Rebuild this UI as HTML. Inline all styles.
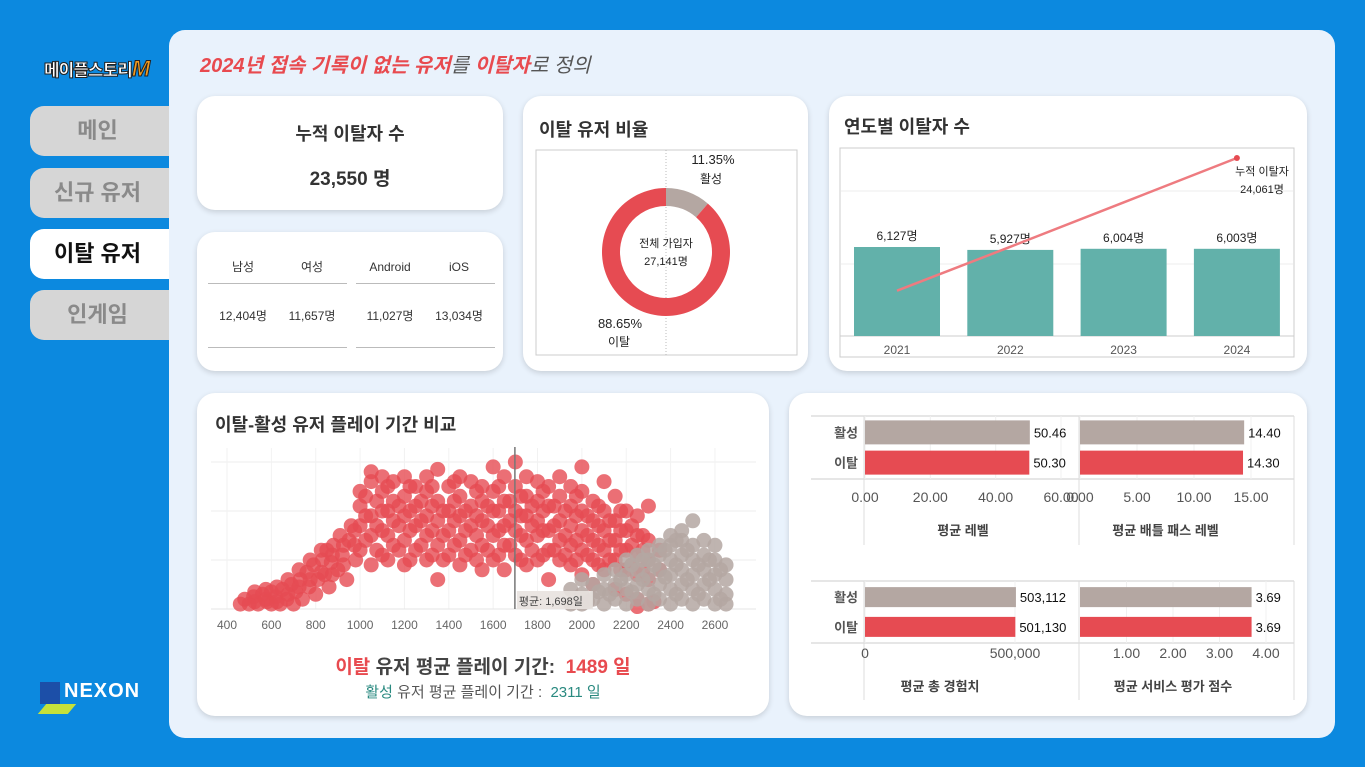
<!DOCTYPE html>
<html><head><meta charset="utf-8"><style>
*{margin:0;padding:0;box-sizing:border-box}
body{width:1365px;height:767px;overflow:hidden;background:#0c89df;font-family:"Liberation Sans","Noto Sans CJK KR",sans-serif;position:relative}
.abs{position:absolute}
.panel{left:169px;top:30px;width:1166px;height:708px;background:#e9f2fc;border-radius:16px}
.card{position:absolute;background:#fff;border-radius:18px;box-shadow:0 2px 6px rgba(0,0,0,.15)}
.nav{position:absolute;left:30px;width:145px;height:50px;border-radius:14px 0 0 14px;background:#d6d6d6;color:#8a8a8a;font-size:22px;font-weight:bold;text-align:center;line-height:50px;padding-right:10px}
.nav.on{background:#fff;color:#111}
.ct{font-size:18px;font-weight:bold;color:#333;position:absolute}
svg text{font-family:"Liberation Sans","Noto Sans CJK KR",sans-serif}
</style></head><body>
<div class="abs" style="left:44px;top:56px;font-size:17px;font-weight:900;color:#fff;-webkit-text-stroke:1px #222;letter-spacing:-1px">메이플스토리<span style="color:#f39a1e;font-style:italic;font-size:22px">M</span></div>
<div class="nav" style="top:106px">메인</div>
<div class="nav" style="top:168px">신규 유저</div>
<div class="nav on" style="top:229px">이탈 유저</div>
<div class="nav" style="top:290px">인게임</div>
<div class="abs" style="left:40px;top:680px;width:120px;height:36px">
<div style="position:absolute;left:0;top:2px;width:20px;height:22px;background:#1c4fa8"></div>
<div style="position:absolute;left:2px;top:24px;width:30px;height:10px;background:#c6e13a;transform:skewX(-40deg)"></div>
<div style="position:absolute;left:24px;top:0;color:#fff;font-weight:bold;font-size:20px;letter-spacing:1px">NEXON</div></div>
<div class="abs panel"></div>
<div class="abs" style="left:200px;top:49px;font-size:20px;font-style:italic;font-weight:bold;color:#e84a4f">2024년 접속 기록이 없는 유저<span style="color:#555;font-weight:normal">를 </span>이탈자<span style="color:#555;font-weight:normal">로 정의</span></div>

<div class="card" style="left:197px;top:96px;width:306px;height:114px">
<div style="position:absolute;top:24px;width:100%;text-align:center;font-size:18px;font-weight:bold;color:#333">누적 이탈자 수</div>
<div style="position:absolute;top:68px;width:100%;text-align:center;font-size:19px;font-weight:bold;color:#333">23,550 명</div></div>

<div class="card" style="left:197px;top:232px;width:306px;height:139px">
<div style="position:absolute;left:11px;top:51px;width:139px;border-top:1px solid #bbb"></div>
<div style="position:absolute;left:159px;top:51px;width:139px;border-top:1px solid #bbb"></div>
<div style="position:absolute;left:11px;top:115px;width:139px;border-top:1px solid #bbb"></div>
<div style="position:absolute;left:159px;top:115px;width:139px;border-top:1px solid #bbb"></div>
</div>

<div class="card" style="left:523px;top:96px;width:285px;height:275px"><div class="ct" style="left:16px;top:20px">이탈 유저 비율</div></div>
<div class="card" style="left:829px;top:96px;width:478px;height:275px"><div class="ct" style="left:15px;top:17px">연도별 이탈자 수</div></div>
<div class="card" style="left:197px;top:393px;width:572px;height:323px"><div class="ct" style="left:18px;top:18px">이탈-활성 유저 플레이 기간 비교</div>
<div style="position:absolute;top:259px;width:100%;text-align:center;font-size:19px;font-weight:bold;color:#444"><span style="color:#e84a4f">이탈</span> 유저 평균 플레이 기간: &nbsp;<span style="color:#e84a4f">1489 일</span></div>
<div style="position:absolute;top:288px;width:100%;text-align:center;font-size:15px;color:#555"><span style="color:#2a8a80">활성</span> 유저 평균 플레이 기간 : &nbsp;<span style="color:#2a8a80">2311 일</span></div></div>
<div class="card" style="left:789px;top:393px;width:518px;height:323px"></div>

<svg class="abs" style="left:0;top:0" width="1365" height="767" id="charts">
<g font-size="12" fill="#333" text-anchor="middle">
<text x="243" y="271">남성</text><text x="312" y="271">여성</text><text x="390" y="271">Android</text><text x="459" y="271">iOS</text>
<text x="243" y="320">12,404명</text><text x="312" y="320">11,657명</text><text x="390" y="320">11,027명</text><text x="459" y="320">13,034명</text></g>
<g id="donut"></g><g id="yearly"></g><g id="scatter"></g><g id="bars"></g>
</svg>
<script>
const NS='http://www.w3.org/2000/svg';
function mk(p,t,a,txt){const e=document.createElementNS(NS,t);for(const k in a)e.setAttribute(k,a[k]);if(txt!==undefined)e.textContent=txt;p.appendChild(e);return e;}
// ---- donut data
const donutLabels=['활성','이탈'];
const donutShares=[11.35,88.65];
// ---- yearly data
const years=['2021','2022','2023','2024'];
const yearChurn=[6127,5927,6004,6003];
const cumChurn=[6127,12054,18058,24061];
// ---- scatter data [days, value]
const churnPts=[[460,.1],[480,.2],[500,.1],[520,.25],[540,.1],[560,.3],[580,.15],[600,.1],[600,.35],[620,.25],[640,.1],[650,.4],[670,.2],[690,.5],[700,.1],[710,.35],[730,.6],[740,.2],[760,.75],[770,.45],[790,.9],[800,.3],[810,.6],[830,1],[840,.7],[850,1.2],[860,.45],[870,.95],[880,1.3],[900,.8],[910,1.5],[920,1.1],[940,.6],[950,1.4],[960,1.7],[980,1],
[525,.15],[525,.35],[575,.2],[575,.4],[625,.15],[625,.45],[675,.3],[675,.6],[725,.45],[725,.8],[775,.6],[775,1],[825,.75],[825,1.2],[875,.7],[875,1.1],[925,.9],[925,1.3],[975,1.3],[975,1.6],
[1000,1.2],[1000,1.7],[1000,2.1],[1000,2.4],[1050,.9],[1050,1.5],[1050,1.9],[1050,2.6],[1050,2.8],[1100,1.1],[1100,1.6],[1100,2],[1100,2.4],[1100,2.7],[1150,1.3],[1150,1.8],[1150,2.2],[1150,2.6],[1200,.9],[1200,1.4],[1200,1.9],[1200,2.3],[1200,2.7],[1250,1.2],[1250,1.7],[1250,2.1],[1250,2.5],[1300,1],[1300,1.5],[1300,1.9],[1300,2.4],[1300,2.7],[1350,.6],[1350,1.3],[1350,1.8],[1350,2.2],[1350,2.85],[1400,1.1],[1400,1.6],[1400,2],[1400,2.5],[1450,.9],[1450,1.4],[1450,1.9],[1450,2.3],[1450,2.7],[1500,1.2],[1500,1.7],[1500,2.1],[1500,2.6],[1550,.8],[1550,1.3],[1550,1.8],[1550,2.2],[1550,2.5],[1600,1],[1600,1.5],[1600,2],[1600,2.4],[1600,2.9],[1650,.8],[1650,1.3],[1650,1.7],[1650,2.2],[1650,2.7],[1700,1.1],[1700,1.6],[1700,2],[1700,2.5],[1700,3],[1750,.9],[1750,1.4],[1750,1.9],[1750,2.3],[1750,2.7],[1800,1],[1800,1.5],[1800,1.8],[1800,2.2],[1800,2.6],[1850,.6],[1850,1.2],[1850,1.6],[1850,2.1],[1850,2.5],[1900,1],[1900,1.4],[1900,1.8],[1900,2.3],[1900,2.7],[1950,.9],[1950,1.3],[1950,1.7],[1950,2.1],[1950,2.5],[2000,.7],[2000,1.2],[2000,1.6],[2000,2],[2000,2.4],[2000,2.9],[2050,.5],[2050,1],[2050,1.4],[2050,1.8],[2050,2.2],[2100,.8],[2100,1.2],[2100,1.6],[2100,2],[2100,2.6],[2150,.4],[2150,1],[2150,1.4],[2150,1.8],[2150,2.3],[2200,.3],[2200,.8],[2200,1.2],[2200,1.6],[2200,2],[2250,.2],[2250,.7],[2250,1.1],[2250,1.5],[2250,1.9],[2300,.1],[2300,.6],[2300,1],[2300,1.4],[2300,2.1],[2350,.8],[2350,1.2],
[1025,1.4],[1025,1.9],[1025,2.3],[1075,1.2],[1075,1.7],[1075,2.2],[1125,1],[1125,1.5],[1125,2],[1125,2.5],[1175,1.2],[1175,1.7],[1175,2.1],[1225,1],[1225,1.6],[1225,2],[1225,2.5],[1275,1.3],[1275,1.8],[1275,2.2],[1325,1.1],[1325,1.6],[1325,2.1],[1325,2.5],[1375,1],[1375,1.5],[1375,2],[1425,1.3],[1425,1.8],[1425,2.2],[1425,2.6],[1475,1.1],[1475,1.6],[1475,2],[1525,1],[1525,1.5],[1525,1.9],[1525,2.4],[1575,1.2],[1575,1.7],[1575,2.1],[1625,1.1],[1625,1.6],[1625,2],[1625,2.5],[1675,1.3],[1675,1.8],[1675,2.2],[1725,1],[1725,1.5],[1725,1.9],[1725,2.3],[1775,1.2],[1775,1.7],[1775,2.1],[1825,1.1],[1825,1.6],[1825,2],[1825,2.4],[1875,1.2],[1875,1.7],[1875,2.1],[1925,1.1],[1925,1.5],[1925,2],[1975,1],[1975,1.4],[1975,1.9],[1975,2.3],[2025,1.1],[2025,1.5],[2025,1.9],[2075,.9],[2075,1.3],[2075,1.7],[2075,2.1],[2125,1],[2125,1.4],[2125,1.8],[2175,.8],[2175,1.2],[2175,1.6],[2175,2],[2225,.9],[2225,1.3],[2225,1.7],[2275,.8],[2275,1.2],[2275,1.5],[2250,.05],[2325,.15]];
const activePts=[[1950,.1],[1950,.4],[2000,.1],[2000,.3],[2000,.6],[2050,.2],[2050,.5],[2100,.1],[2100,.4],[2100,.7],[2150,.2],[2150,.5],[2150,.8],[2200,.1],[2200,.4],[2200,.7],[2200,1],[2250,.2],[2250,.5],[2250,.8],[2250,1.1],[2300,.1],[2300,.4],[2300,.7],[2300,1],[2300,1.2],[2350,.2],[2350,.5],[2350,.8],[2350,1.1],[2350,1.3],[2400,.1],[2400,.4],[2400,.7],[2400,1],[2400,1.3],[2400,1.5],[2450,.2],[2450,.5],[2450,.8],[2450,1.1],[2450,1.4],[2450,1.6],[2500,.1],[2500,.4],[2500,.7],[2500,1],[2500,1.3],[2500,1.8],[2550,.2],[2550,.5],[2550,.8],[2550,1.1],[2550,1.4],[2600,.1],[2600,.4],[2600,.7],[2600,1],[2600,1.3],[2650,.1],[2650,.3],[2650,.6],[2650,.9],
[2025,.15],[2075,.35],[2125,.3],[2175,.6],[2225,.35],[2225,.9],[2275,.6],[2275,1],[2325,.3],[2325,.9],[2375,.65],[2375,1.2],[2425,.3],[2425,.9],[2425,1.4],[2475,.6],[2475,1.2],[2525,.3],[2525,.9],[2575,.6],[2575,1],[2625,.2],[2625,.8]];
const xTicks=[400,600,800,1000,1200,1400,1600,1800,2000,2200,2400,2600];
const avgDays=1698;
// ---- bar metrics
const groups=['활성','이탈'];
const levelVals=[50.46,50.30];
const bpVals=[14.40,14.30];
const expVals=[503112,501130];
const rateVals=[3.69,3.69];
const levelTicks=[0,20,40,60],bpTicks=[0,5,10,15],expTicks=[0,500000],rateTicks=[1,2,3,4];

// donut
(function(){const g=document.getElementById('donut');
mk(g,'rect',{x:536,y:150,width:261,height:205,fill:'none',stroke:'#ccc'});
mk(g,'line',{x1:666,y1:150,x2:666,y2:355,stroke:'#bbb','stroke-dasharray':'1,2'});
const cx=666,cy=252,R=64,r=46;let a0=0;const cols=['#b4a7a2','#e64b52'];
donutShares.forEach((s,i)=>{const a1=a0+s/100*2*Math.PI;const p=(a,rr)=>[cx+rr*Math.sin(a),cy-rr*Math.cos(a)];const L=(a1-a0)>Math.PI?1:0;
const [x1,y1]=p(a0,R),[x2,y2]=p(a1,R),[x3,y3]=p(a1,r),[x4,y4]=p(a0,r);
const e=mk(g,'path',{d:`M${x1},${y1}A${R},${R} 0 ${L} 1 ${x2},${y2}L${x3},${y3}A${r},${r} 0 ${L} 0 ${x4},${y4}Z`,fill:cols[i]});

a0=a1;});
mk(g,'text',{x:666,y:247,'font-size':11,'text-anchor':'middle',fill:'#222'},'전체 가입자');
mk(g,'text',{x:666,y:265,'font-size':11,'text-anchor':'middle',fill:'#222'},'27,141명');
mk(g,'text',{x:713,y:164,'font-size':13,'text-anchor':'middle',fill:'#222'},donutShares[0].toFixed(2)+'%');
mk(g,'text',{x:711,y:183,'font-size':12,'text-anchor':'middle',fill:'#222'},donutLabels[0]);
mk(g,'text',{x:620,y:328,'font-size':13,'text-anchor':'middle',fill:'#222'},donutShares[1].toFixed(2)+'%');
mk(g,'text',{x:619,y:346,'font-size':12,'text-anchor':'middle',fill:'#222'},donutLabels[1]);})();

// yearly
(function(){const g=document.getElementById('yearly');
mk(g,'rect',{x:840,y:148,width:454,height:209,fill:'none',stroke:'#ccc'});
const base=336,k=89/6127,k2=178/24061,bx=i=>897+i*113.3;
[191,264].forEach(y=>mk(g,'line',{x1:841,x2:1293,y1:y,y2:y,stroke:'#eee'}));
mk(g,'line',{x1:840,x2:1294,y1:base,y2:base,stroke:'#ccc'});
years.forEach((yr,i)=>{const h=yearChurn[i]*k;const b=mk(g,'rect',{x:bx(i)-43,y:base-h,width:86,height:h,fill:'#62b1aa'});


mk(g,'text',{x:bx(i),y:base-h-7,'font-size':12,'text-anchor':'middle',fill:'#222'},yearChurn[i].toLocaleString()+'명');
mk(g,'text',{x:bx(i),y:354,'font-size':12,'text-anchor':'middle',fill:'#555'},yr);});
const pts=cumChurn.map((v,i)=>bx(i)+','+(base-v*k2)).join(' ');
const pl=mk(g,'polyline',{points:pts,fill:'none',stroke:'#ee7b80','stroke-width':2.5});


const li=cumChurn.length-1;mk(g,'circle',{cx:bx(li),cy:base-cumChurn[li]*k2,r:3,fill:'#e64b52'});
mk(g,'text',{x:1262,y:175,'font-size':11,'text-anchor':'middle',fill:'#222'},'누적 이탈자');
mk(g,'text',{x:1262,y:193,'font-size':11,'text-anchor':'middle',fill:'#222'},cumChurn[li].toLocaleString()+'명');})();

// scatter
(function(){const g=document.getElementById('scatter');
const X=v=>227+(v-400)*0.2218,Y=v=>609-v*49;
[462,511,560].forEach(y=>mk(g,'line',{x1:211,x2:756,y1:y,y2:y,stroke:'#eee'}));
xTicks.forEach(t=>{mk(g,'line',{x1:X(t),x2:X(t),y1:448,y2:609,stroke:'#f2f2f2'});mk(g,'text',{x:X(t),y:629,'font-size':12,'text-anchor':'middle',fill:'#666'},t);});
mk(g,'line',{x1:211,x2:756,y1:609,y2:609,stroke:'#e5e5e5'});
churnPts.forEach(p=>{const c=mk(g,'circle',{cx:X(p[0]),cy:Y(p[1]),r:7.5,fill:'#e64b52','fill-opacity':.8});

});
activePts.forEach(p=>{const c=mk(g,'circle',{cx:X(p[0]),cy:Y(p[1]),r:7.5,fill:'#b4a7a2','fill-opacity':.85});

});
mk(g,'line',{x1:X(avgDays),x2:X(avgDays),y1:447,y2:609,stroke:'#777','stroke-width':1.5});
mk(g,'rect',{x:X(avgDays)+2,y:591,width:76,height:18,fill:'#e8e2df','fill-opacity':.9});
mk(g,'text',{x:X(avgDays)+4,y:605,'font-size':11,fill:'#444'},'평균: 1,698일');})();

// bars
(function(){const g=document.getElementById('bars');
function panel(x0,x1,y0,y1,tickY,titleY,vals,ticks,maxV,title,fmt,tfmt,bh,labels){
 const X=v=>x0+v*(x1-x0)/maxV;
 ticks.forEach(t=>{mk(g,'line',{x1:X(t),x2:X(t),y1:y0,y2:y1,stroke:'#f0f0f0'});mk(g,'text',{x:X(t),y:tickY,'font-size':14,'text-anchor':'middle',fill:'#555'},tfmt(t));});
 const rows=[y0+(y1-y0)*0.26,y0+(y1-y0)*0.74];
 vals.forEach((v,i)=>{const b=mk(g,'rect',{x:x0,y:rows[i]-bh/2,width:X(v)-x0,height:bh,fill:i?'#e64b52':'#b4a7a2'});
 
 
 mk(g,'text',{x:X(v)+4,y:rows[i]+5,'font-size':13,fill:'#111'},fmt(v));
 if(labels)mk(g,'text',{x:858,y:rows[i]+5,'font-size':13,'font-weight':'bold','text-anchor':'end',fill:'#555'},groups[i]);});
 mk(g,'text',{x:(x0+x1)/2,y:titleY,'font-size':13,'font-weight':'bold','text-anchor':'middle',fill:'#444'},title);}
function frame(y0,y1,yb){mk(g,'line',{x1:811,x2:1294,y1:y0,y2:y0,stroke:'#ccc'});mk(g,'line',{x1:811,x2:1294,y1:y1,y2:y1,stroke:'#ccc'});
[864,1079,1294].forEach(x=>mk(g,'line',{x1:x,x2:x,y1:y0,y2:yb,stroke:'#ddd'}));}
frame(416,479,545);frame(581,643,700);
const f2=v=>v.toFixed(2);
panel(865,1061,416,479,502,535,levelVals,levelTicks,60,'평균 레벨',f2,f2,24,true);
panel(1080,1251,416,479,502,535,bpVals,bpTicks,15,'평균 배틀 패스 레벨',f2,f2,24,false);
panel(865,1015,581,643,658,691,expVals,expTicks,500000,'평균 총 경험치',v=>v.toLocaleString(),v=>v.toLocaleString(),20,true);
panel(1080,1266,581,643,658,691,rateVals,rateTicks,4,'평균 서비스 평가 점수',f2,f2,20,false);
})();
</script>
</body></html>
